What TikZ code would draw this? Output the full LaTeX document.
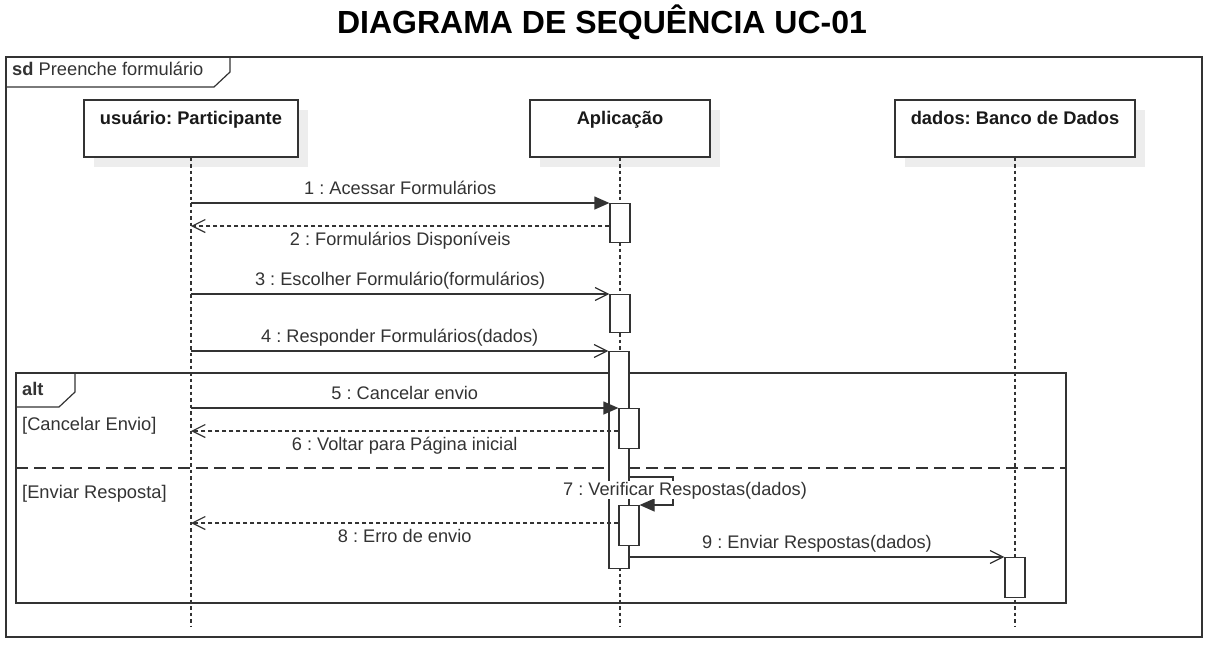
\documentclass[tikz,border=0pt]{standalone}
\usepackage{fontspec}
\setmainfont{Liberation Sans}
\usetikzlibrary{arrows.meta,shadows}
\frenchspacing

\begin{document}
\begin{tikzpicture}[x=1pt,y=-1pt,
  ink/.style={draw=black!80, line width=1.2pt},
  frame/.style={draw=black!80, line width=1.2pt},
  actor/.style={ink, fill=white, minimum height=57pt, inner sep=0pt,
    drop shadow={shadow xshift=10pt, shadow yshift=-10pt, fill=black!7, opacity=1}},
  actorname/.style={font=\fontsize{18.3}{21}\selectfont\bfseries, text=black!90, anchor=base},
  lifeline/.style={draw=black!80, line width=1.2pt, dash pattern=on 3.5pt off 3pt},
  act/.style={ink, fill=white, minimum width=20pt, inner sep=0pt, anchor=north},
  call/.style={ink, -{Triangle[length=15pt,width=13pt]}},
  send/.style={ink, -{Straight Barb[length=13pt,width=13pt]}},
  reply/.style={ink, dash pattern=on 4pt off 3pt, -{Straight Barb[length=13pt,width=13pt]}},
  lbl/.style={font=\fontsize{18.2}{21}\selectfont, text=black!80, anchor=base},
  guard/.style={font=\fontsize{18.3}{21}\selectfont, text=black!80, anchor=base west, inner sep=0pt},
  ]
\useasboundingbox (0,0) rectangle (1208,649);

\node[font=\fontsize{32}{38}\selectfont\bfseries, anchor=base] (title) at (602,33) {DIAGRAMA DE SEQUÊNCIA UC-01};

% frames
\draw[frame] (6,57) rectangle (1202,637);
\draw[frame] (6,87) -- (214,87) -- (230,72) -- (230,57);
\node[guard] (sd) at (12,75) {\textbf{sd} Preenche formulário};
\draw[frame] (16,373) rectangle (1066,603);
\draw[frame] (16,407) -- (59,407) -- (75,392) -- (75,373);
\node[guard] (alt) at (22,395) {\textbf{alt}};
\draw[frame, dash pattern=on 12pt off 6pt] (16,468) -- (1066,468);
\node[guard] (g1) at (22,430) {[Cancelar Envio]};
\node[guard] (g2) at (22,498) {[Enviar Resposta]};

% participants
\node[actor, minimum width=214pt] (part) at (191,128.5) {};
\node[actor, minimum width=180pt] (app) at (620,128.5) {};
\node[actor, minimum width=240pt] (db) at (1015,128.5) {};
\node[actorname] at ([yshift=-25pt]part.north) {usuário: Participante};
\node[actorname] at ([yshift=-25pt]app.north) {Aplicação};
\node[actorname] at ([yshift=-25pt]db.north) {dados: Banco de Dados};

\coordinate (bottom) at (0,627);
\draw[lifeline] (part.south) -- (part.south |- bottom);
\draw[lifeline] (app.south) -- (app.south |- bottom);
\draw[lifeline] (db.south) -- (db.south |- bottom);

% activations
\node[act, minimum height=39pt] (a1) at (620,203) {};
\node[act, minimum height=38pt] (a2) at (620,294) {};
\node[act, minimum height=217pt] (a3) at (619,351) {};
\node[act, minimum height=40pt] (a4) at (629,408) {};
\node[act, minimum height=40pt] (a5) at (629,505) {};
\node[act, minimum height=40pt] (a6) at (1015,557) {};

% messages
\draw[call] (a1.north west -| part) -- node[lbl, yshift=9pt] {1 : Acessar Formulários} (a1.north west);
\coordinate (m2) at ([yshift=-23pt]a1.north west);
\draw[reply] (m2) -- node[lbl, yshift=-19pt] {2 : Formulários Disponíveis} (m2 -| part);
\draw[send] (a2.north west -| part) -- node[lbl, yshift=9pt] {3 : Escolher Formulário(formulários)} (a2.north west);
\draw[send] (a3.north west -| part) -- node[lbl, yshift=9pt] {4 : Responder Formulários(dados)} (a3.north west);
\draw[call] (a4.north west -| part) -- node[lbl, yshift=9pt] {5 : Cancelar envio} (a4.north west);
\coordinate (m6) at ([yshift=-23pt]a4.north west);
\draw[reply] (m6) -- node[lbl, yshift=-19pt] {6 : Voltar para Página inicial} (m6 -| part);
\coordinate (s7) at (673,477);
\draw[call] (s7 -| a3.east) -- (s7) |- (a5.north east);
\node[lbl, fill=white, inner sep=0.5pt] (l7) at (685,495) {7 : Verificar Respostas(dados)};
\coordinate (m8) at ([yshift=-18pt]a5.north west);
\draw[reply] (m8) -- node[lbl, yshift=-19pt] {8 : Erro de envio} (m8 -| part);
\draw[send] (a6.north west -| a3.east) -- node[lbl, yshift=9pt] {9 : Enviar Respostas(dados)} (a6.north west);
\end{tikzpicture}
\end{document}
